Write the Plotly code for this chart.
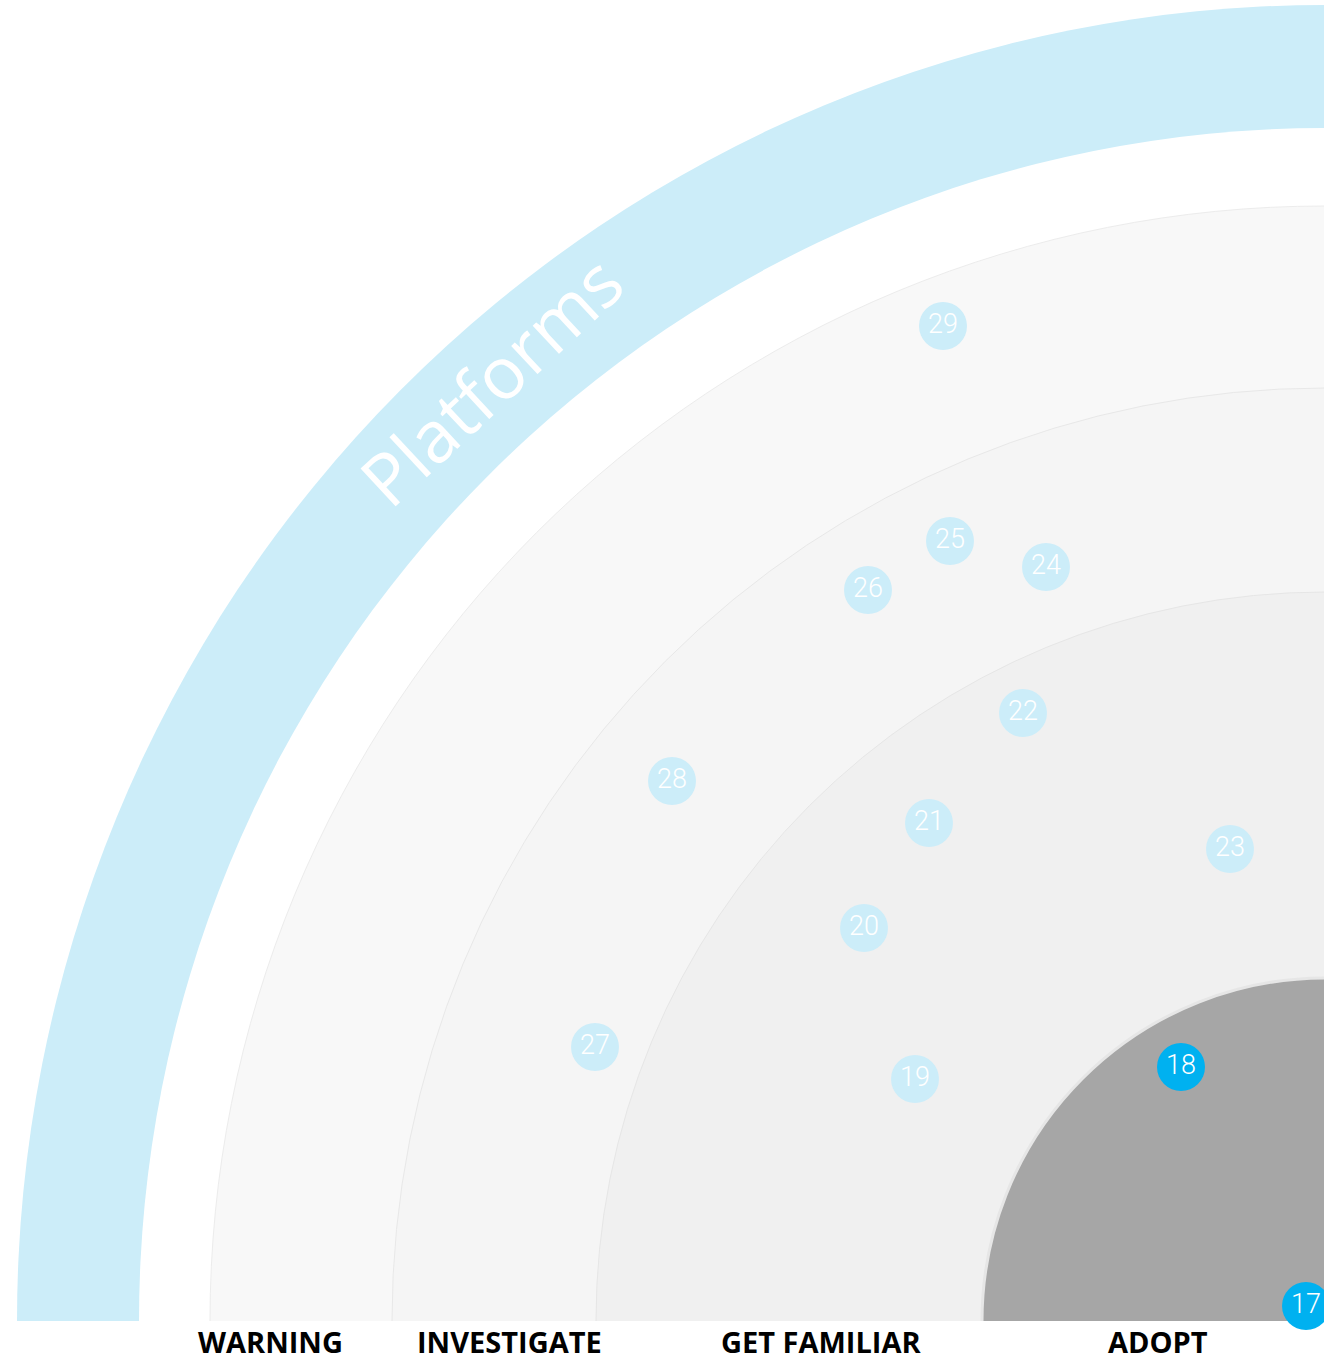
import plotly.graph_objects as go

# ---- data ----
ring_names = ["ADOPT", "GET FAMILIAR", "INVESTIGATE", "WARNING"]
ring_radii = [343, 729, 933, 1115]
ring_label_x = [-167, -504, -816, -1055]
quadrant_name = "Platforms"
band_inner_rx, band_inner_ry = 1186, 1193
band_outer_rx, band_outer_ry = 1308, 1316

blip_ids = [17, 18, 19, 20, 21, 22, 23, 24, 25, 26, 27, 28, 29]
blip_x = [-19, -144, -410, -461, -396, -302, -95, -279, -375, -457, -730, -653, -382]
blip_y = [15, 254, 242, 393, 498, 608, 472, 754, 780, 731, 274, 540, 995]
blip_new = [True, True, False, False, False, False, False, False, False, False, False, False, False]

# ---- style ----
ring_fill = ["#a6a6a6", "#f0f0f0", "#f5f5f5", "#f8f8f8"]
ring_line = ["#e6e6e6", "#e6e6e6", "#e8e8e8", "#ececec"]
ring_lw = [3, 1, 1, 1]
band_color = "#ccedf9"
blip_strong = "#00b1f0"
blip_light = "#ccedf9"

fig = go.Figure()

shapes = []
shapes.append(dict(type="circle", xref="x", yref="y", x0=-band_outer_rx, x1=band_outer_rx,
                   y0=-band_outer_ry, y1=band_outer_ry, fillcolor=band_color, line=dict(width=0), layer="below"))
shapes.append(dict(type="circle", xref="x", yref="y", x0=-band_inner_rx, x1=band_inner_rx,
                   y0=-band_inner_ry, y1=band_inner_ry, fillcolor="white", line=dict(width=0), layer="below"))
for r, fc, lc, lw in reversed(list(zip(ring_radii, ring_fill, ring_line, ring_lw))):
    shapes.append(dict(type="circle", xref="x", yref="y", x0=-r, x1=r, y0=-r, y1=r,
                       fillcolor=fc, line=dict(color=lc, width=lw), layer="below"))
shapes.append(dict(type="rect", xref="x", yref="y", x0=-1400, x1=100, y0=-100, y1=0,
                   fillcolor="white", line=dict(width=0), layer="below"))

colors = [blip_strong if n else blip_light for n in blip_new]
fig.add_trace(go.Scatter(
    x=blip_x, y=blip_y, mode="markers+text",
    marker=dict(size=48, color=colors, line=dict(width=0)),
    text=[str(i) for i in blip_ids], textposition="middle center",
    textfont=dict(family="Roboto", size=27, color="white", weight=300),
    hoverinfo="skip", showlegend=False, cliponaxis=False,
))

annotations = []
for name, lx in zip(ring_names, ring_label_x):
    annotations.append(dict(x=lx, y=-20, xref="x", yref="y", text="<b>%s</b>" % name,
                            showarrow=False, font=dict(family="Open Sans", size=29, color="black"),
                            xanchor="center", yanchor="middle"))
annotations.append(dict(x=-835, y=941, xref="x", yref="y", text=quadrant_name, showarrow=False,
                        textangle=-43, font=dict(family="Open Sans", size=72, color="white"),
                        xanchor="center", yanchor="middle"))

fig.update_layout(
    width=1324, height=1356,
    margin=dict(l=0, r=0, t=0, b=0),
    paper_bgcolor="white", plot_bgcolor="white",
    xaxis=dict(range=[-1325, -1], visible=False, fixedrange=True),
    yaxis=dict(range=[-35, 1321], visible=False, fixedrange=True),
    shapes=shapes, annotations=annotations,
    showlegend=False,
)

fig.write_html("out.html", config={"displayModeBar": False},
               post_script="document.body.style.margin='0';document.body.style.overflow='hidden';")
